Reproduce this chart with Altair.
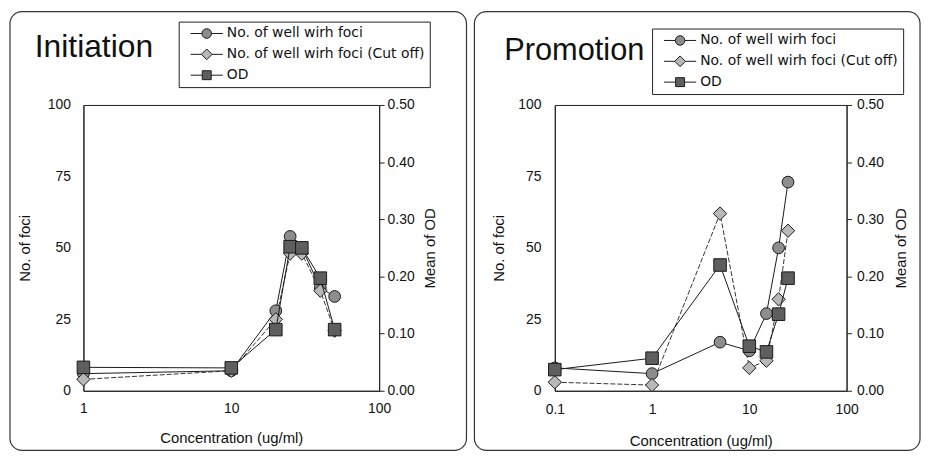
import altair as alt
import pandas as pd

series_names = ["No. of well wirh foci", "No. of well wirh foci (Cut off)", "OD"]

# Initiation panel
init_conc = [1, 10, 20, 25, 30, 40, 50]
init_foci = [6, 7, 28, 54, 50, 36, 33]
init_cutoff = [4, 7, 25, 48, 48, 35, 21]
init_od = [0.041, 0.040, 0.107, 0.252, 0.250, 0.197, 0.107]

# Promotion panel
prom_conc = [0.1, 1, 5, 10, 15, 20, 25]
prom_foci = [8, 6, 17, 14, 27, 50, 73]
prom_cutoff = [3, 2, 62, 8, 10.5, 32, 56]
prom_od = [0.037, 0.057, 0.220, 0.078, 0.068, 0.134, 0.197]

foci_ticks = [0, 25, 50, 75, 100]
od_ticks = [0.0, 0.1, 0.2, 0.3, 0.4, 0.5]
init_x_ticks = [1, 10, 100]
prom_x_ticks = [0.1, 1, 10, 100]

FONT = "Liberation Sans"
INK = "#1a1a1a"
fills = ["#8d8d8d", "#b8b8b8", "#5e5e5e"]
strokes = ["#1a1a1a", "#1a1a1a", "#1a1a1a"]
legend_paths = [
    "M-2.7,0H-0.8M0.8,0H2.7M0.8,0A0.8,0.8 0 1,1 -0.8,0A0.8,0.8 0 1,1 0.8,0Z",
    "M-2.7,0H-0.9M0.9,0H2.7M0,-0.9L0.9,0L0,0.9L-0.9,0Z",
    "M-2.7,0H-0.75M0.75,0H2.7M-0.75,-0.75H0.75V0.75H-0.75Z",
]

H = 288


def panel(title, conc, foci, cutoff, od, x_ticks, W, frame, leg_xy, title_xy,
          title_size, ytitle_x, y2title_x, xtitle_y, xlab_pad, ylab_pad, y2lab_pad):
    n = len(conc)
    df = pd.DataFrame({
        "conc": conc * 3,
        "value": foci + cutoff + od,
        "series": [series_names[0]] * n + [series_names[1]] * n + [series_names[2]] * n,
    })
    x = alt.X("conc:Q",
              scale=alt.Scale(type="log", domain=[x_ticks[0], x_ticks[-1]], nice=False),
              axis=alt.Axis(values=x_ticks, labelExpr="'' + datum.value", ticks=False,
                            labelFlush=False, labelPadding=xlab_pad,
                            title="Concentration (ug/ml)",
                            titleY=xtitle_y, titleBaseline="middle"))
    y_left = alt.Y("value:Q", scale=alt.Scale(domain=[0, 100], nice=False),
                   axis=alt.Axis(values=foci_ticks, ticks=False, labelPadding=ylab_pad,
                                 labelFlush=False,
                                 title="No. of foci", titleX=ytitle_x, titleY=H / 2,
                                 titleAngle=270, titleAlign="center",
                                 titleBaseline="middle", orient="left"))
    y_right = alt.Y("value:Q", scale=alt.Scale(domain=[0, 0.5], nice=False),
                    axis=alt.Axis(values=od_ticks, format=".2f", tickSize=5,
                                  labelFlush=False,
                                  labelPadding=y2lab_pad, title="Mean of OD",
                                  titleX=y2title_x, titleY=H / 2, titleAngle=270,
                                  titleAlign="center", titleBaseline="middle",
                                  orient="right"))
    base = alt.Chart(df).encode(x=x)
    s0 = alt.datum.series == series_names[0]
    s1 = alt.datum.series == series_names[1]
    s2 = alt.datum.series == series_names[2]

    deco = alt.Chart(alt.Data(values=[{"f": 1}]))
    frame_layer = deco.mark_rect(
        filled=False, color="#333333", strokeWidth=1.2, cornerRadius=12
    ).encode(x=alt.value(frame[0]), x2=alt.value(frame[1]),
             y=alt.value(frame[2]), y2=alt.value(frame[3]))
    title_layer = deco.mark_text(
        text=title, font=FONT, fontSize=title_size, color="#111111",
        align="left", baseline="alphabetic"
    ).encode(x=alt.value(title_xy[0]), y=alt.value(title_xy[1]))

    leg = alt.Legend(orient="none", legendX=leg_xy[0], legendY=leg_xy[1], title=None,
                     padding=5, strokeColor="#222222", fillColor="white",
                     symbolSize=144, symbolStrokeWidth=1,
                     symbolOpacity=1, symbolOffset=16.25, labelOffset=13.25,
                     labelFont="DejaVu Sans", labelFontSize=14, labelColor="#111111",
                     rowPadding=6, labelLimit=400)
    legend_layer = base.transform_filter("datum.conc < 0").mark_point(
        filled=True, strokeWidth=1, opacity=1
    ).encode(
        y=y_left,
        shape=alt.Shape("series:N", scale=alt.Scale(domain=series_names, range=legend_paths),
                        legend=leg),
        fill=alt.Fill("series:N", scale=alt.Scale(domain=series_names, range=fills),
                      legend=leg),
        stroke=alt.Stroke("series:N", scale=alt.Scale(domain=series_names, range=strokes),
                          legend=leg),
    )

    line0 = base.transform_filter(s0).mark_line(color=INK, strokeWidth=1).encode(y=y_left)
    line1 = base.transform_filter(s1).mark_line(color="#333333", strokeWidth=1,
                                                 strokeDash=[5, 2]).encode(y=y_left)
    pt0 = base.transform_filter(s0).mark_point(shape="circle", filled=True, size=140,
                                               fill=fills[0], stroke=INK, strokeWidth=1,
                                               opacity=1).encode(y=y_left)
    pt1 = base.transform_filter(s1).mark_point(shape="diamond", filled=True, size=180,
                                               fill=fills[1], stroke=INK, strokeWidth=1,
                                               opacity=1).encode(y=y_left)
    left_group = alt.layer(frame_layer, title_layer, line0, line1, pt0, pt1, legend_layer)

    line2 = base.transform_filter(s2).mark_line(color=INK, strokeWidth=1).encode(y=y_right)
    pt2 = base.transform_filter(s2).mark_point(shape="square", filled=True, size=160,
                                               fill=fills[2], stroke=INK, strokeWidth=1,
                                               opacity=1).encode(y=y_right)
    right_group = alt.layer(line2, pt2)

    return alt.layer(left_group, right_group).resolve_scale(y="independent").properties(
        width=W, height=H)


p1 = panel("Initiation", init_conc, init_foci, init_cutoff, init_od, init_x_ticks,
           298, (-74, 386, -94, 348), (96, -84), (-49, -48), 32, -59, 51, 47, 11, 13, 3)
p2 = panel("Promotion", prom_conc, prom_foci, prom_cutoff, prom_od, prom_x_ticks,
           294, (-81, 368, -94, 348), (98, -77), (-51, -45), 31, -57, 54, 50, 12, 14, 5)

chart = alt.hconcat(p1, p2, spacing=4).resolve_scale(
    shape="independent", fill="independent", stroke="independent"
).resolve_legend(
    shape="independent", fill="independent", stroke="independent"
).properties(
    padding={"left": 0, "top": 0, "right": 0, "bottom": 0},
    autosize=alt.AutoSizeParams(type="pad"),
    background="white",
).configure_view(stroke="#222222", strokeWidth=1).configure_axis(
    labelFont=FONT, labelFontSize=14, labelColor="#111111", titleFont=FONT,
    titleFontSize=15, titleFontWeight="normal", titleColor="#111111",
    domainColor="#222222", tickColor="#222222", grid=False
)

chart.save("out.html", embed_options={"renderer": "svg", "actions": False})
